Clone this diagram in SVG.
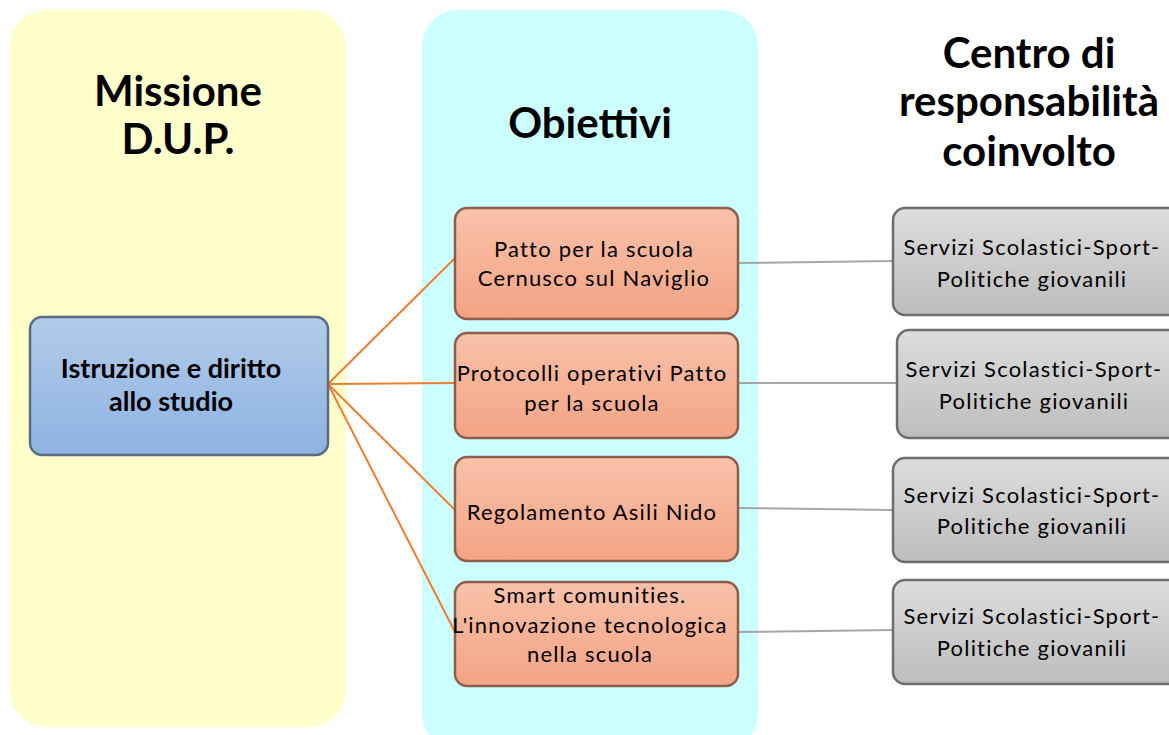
<svg xmlns="http://www.w3.org/2000/svg" width="1169" height="735" viewBox="0 0 1169 735">
<defs>
<linearGradient id="gBlue" x1="0" y1="0" x2="0" y2="1"><stop offset="0" stop-color="#B3CBE9"/><stop offset="1" stop-color="#8DB3E2"/></linearGradient>
<linearGradient id="gOr" x1="0" y1="0" x2="0" y2="1"><stop offset="0" stop-color="#F8C2AA"/><stop offset="1" stop-color="#F4A385"/></linearGradient>
<linearGradient id="gGr" x1="0" y1="0" x2="0" y2="1"><stop offset="0" stop-color="#DDDDDD"/><stop offset="1" stop-color="#BDBDBD"/></linearGradient>
</defs>
<style>
.title{font-family:Lato,"Liberation Sans",sans-serif;font-weight:bold;font-size:42px;fill:#000;text-anchor:middle}
.bt{font-family:Lato,"Liberation Sans",sans-serif;font-weight:bold;font-size:27px;fill:#000;text-anchor:middle}
.t{font-family:Lato,"Liberation Sans",sans-serif;font-size:22px;fill:#000;text-anchor:middle;letter-spacing:1.2px}
.or{fill:url(#gOr);stroke:#8C5E4B;stroke-width:2.5}
.gr{fill:url(#gGr);stroke:#6E6E6E;stroke-width:2.5}
.bl{fill:url(#gBlue);stroke:#5B6C80;stroke-width:2.5}
.co{stroke:#ED7D31;stroke-width:2;fill:none}
.cg{stroke:#A6A6A6;stroke-width:2;fill:none}
</style>
<rect width="1169" height="735" fill="#FFFFFF"/>
<g id="panel-missione">
<rect x="10" y="10" width="336" height="717" rx="36" fill="#FFFFCC"/>
<text class="title" x="178" y="106">Missione</text>
<text class="title" x="178" y="154">D.U.P.</text>
</g>
<g id="panel-obiettivi">
<rect x="422" y="10" width="336" height="740" rx="36" fill="#CCFFFF"/>
<text class="title" x="590" y="138">Obiettivi</text>
</g>
<g id="header-centro">
<text class="title" x="1029" y="68">Centro di</text>
<text class="title" x="1029" y="116">responsabilità</text>
<text class="title" x="1029" y="166">coinvolto</text>
</g>
<g id="connectors">
<line class="co" x1="328" y1="384" x2="455" y2="258"/>
<line class="co" x1="328" y1="384" x2="455" y2="383"/>
<line class="co" x1="328" y1="384" x2="455" y2="510"/>
<line class="co" x1="328" y1="384" x2="455" y2="632"/>
<line class="cg" x1="738" y1="263" x2="893" y2="261"/>
<line class="cg" x1="738" y1="383" x2="897" y2="383"/>
<line class="cg" x1="738" y1="508" x2="893" y2="510"/>
<line class="cg" x1="738" y1="632" x2="893" y2="630"/>
</g>
<g id="node-istruzione">
<rect class="bl" x="30" y="317" width="298" height="138" rx="12"/>
<text class="bt" x="171" y="378">Istruzione e diritto</text>
<text class="bt" x="171" y="411">allo studio</text>
</g>
<g id="node-ob1">
<rect class="or" x="455" y="208" width="283" height="111" rx="12"/>
<text class="t" x="594" y="257">Patto per la scuola</text>
<text class="t" x="594" y="286">Cernusco sul Naviglio</text>
</g>
<g id="node-ob2">
<rect class="or" x="455" y="333" width="283" height="105" rx="12"/>
<text class="t" x="592" y="381">Protocolli operativi Patto</text>
<text class="t" x="592" y="411">per la scuola</text>
</g>
<g id="node-ob3">
<rect class="or" x="455" y="457" width="283" height="104" rx="12"/>
<text class="t" x="592" y="520">Regolamento Asili Nido</text>
</g>
<g id="node-ob4">
<rect class="or" x="455" y="582" width="283" height="104" rx="12"/>
<text class="t" x="590" y="603">Smart comunities.</text>
<text class="t" x="590" y="633">L'innovazione tecnologica</text>
<text class="t" x="590" y="662">nella scuola</text>
</g>
<g id="node-cr1">
<rect class="gr" x="893" y="208" width="290" height="107" rx="12"/>
<text class="t" x="1032" y="255">Servizi Scolastici-Sport-</text>
<text class="t" x="1032" y="287">Politiche giovanili</text>
</g>
<g id="node-cr2">
<rect class="gr" x="897" y="330" width="290" height="108" rx="12"/>
<text class="t" x="1034" y="377">Servizi Scolastici-Sport-</text>
<text class="t" x="1034" y="409">Politiche giovanili</text>
</g>
<g id="node-cr3">
<rect class="gr" x="893" y="458" width="290" height="104" rx="12"/>
<text class="t" x="1032" y="503">Servizi Scolastici-Sport-</text>
<text class="t" x="1032" y="534">Politiche giovanili</text>
</g>
<g id="node-cr4">
<rect class="gr" x="893" y="580" width="290" height="104" rx="12"/>
<text class="t" x="1032" y="624">Servizi Scolastici-Sport-</text>
<text class="t" x="1032" y="656">Politiche giovanili</text>
</g>
</svg>
